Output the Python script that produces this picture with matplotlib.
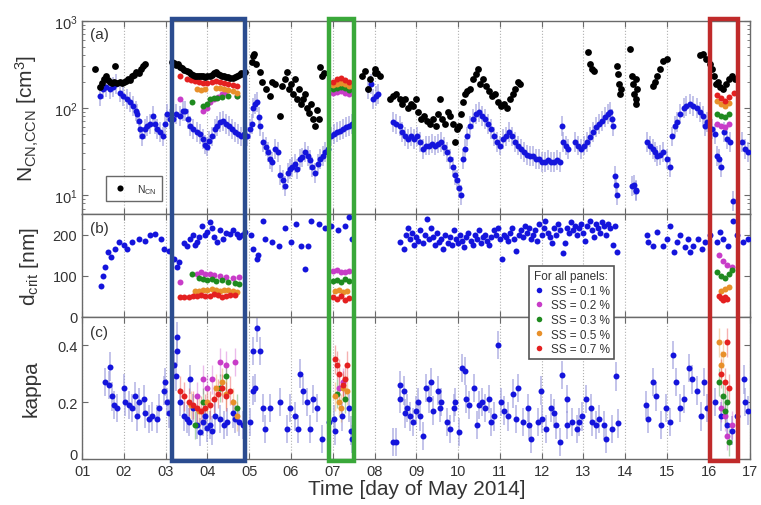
import numpy as np
import matplotlib
matplotlib.use("Agg")
import matplotlib.pyplot as plt
from matplotlib.patches import Rectangle
from matplotlib.transforms import blended_transform_factory, ScaledTranslation
from matplotlib.ticker import LogLocator, NullFormatter, FixedLocator

plt.rcParams['font.family'] = ['Liberation Sans', 'DejaVu Sans']
plt.rcParams['mathtext.default'] = 'regular'

# ---------------- data (day of May 2014, value) ----------------
day_ticks = list(range(1, 18))
day_labels = [f"{d:02d}" for d in day_ticks]

# Panel (a): total CN number concentration
ncn = [(1.31, 280), (1.43, 175), (1.47, 195), (1.52, 215), (1.57, 230), (1.62, 210), (1.67, 200),
       (1.72, 195), (1.77, 200), (1.79, 300), (1.84, 195), (1.90, 200), (1.95, 195), (2.00, 200),
       (2.05, 205), (2.10, 215), (2.15, 210), (2.20, 230), (2.25, 240), (2.30, 260), (2.35, 250),
       (2.40, 280), (2.45, 300), (2.50, 320),
       (3.15, 340), (3.20, 330), (3.25, 310), (3.30, 320), (3.35, 295), (3.40, 290), (3.45, 275),
       (3.50, 265), (3.55, 255), (3.60, 245), (3.65, 240), (3.70, 235), (3.75, 232), (3.80, 230),
       (3.85, 232), (3.90, 235), (3.95, 228), (4.00, 230), (4.05, 235), (4.10, 240), (4.15, 250),
       (4.20, 255), (4.25, 245), (4.30, 240), (4.35, 235), (4.40, 232), (4.45, 228), (4.50, 225),
       (4.55, 222), (4.60, 220), (4.65, 225), (4.70, 232), (4.75, 240), (4.80, 250), (4.85, 245),
       (4.90, 255),
       (5.07, 340), (5.10, 390), (5.12, 410), (5.17, 320), (5.26, 260), (5.31, 200), (5.41, 165),
       (5.50, 137), (5.55, 200), (5.62, 190), (5.74, 81), (5.79, 180), (5.86, 215), (5.91, 260),
       (5.96, 165), (6.00, 190), (6.05, 145), (6.10, 215), (6.15, 127), (6.20, 165), (6.25, 110),
       (6.29, 127), (6.34, 145), (6.39, 100), (6.44, 88), (6.48, 110), (6.53, 75), (6.58, 62),
       (6.63, 95), (6.68, 75), (6.70, 296), (6.75, 232), (6.80, 250),
       (7.71, 230), (7.78, 265), (7.85, 165), (7.90, 215), (8.00, 280), (8.02, 250), (8.07, 250),
       (8.14, 235),
       (8.38, 127), (8.45, 137), (8.52, 145), (8.60, 127), (8.67, 110), (8.74, 127), (8.81, 100),
       (8.88, 110), (8.93, 105), (9.00, 127), (9.05, 90), (9.12, 75), (9.19, 80), (9.26, 71),
       (9.34, 65), (9.41, 75), (9.48, 62), (9.53, 85), (9.57, 125), (9.62, 75), (9.69, 65),
       (9.77, 90), (9.81, 80), (9.89, 65), (9.93, 41), (9.98, 57), (10.03, 62), (10.08, 85),
       (10.12, 117), (10.17, 145), (10.22, 155), (10.29, 165), (10.37, 215), (10.44, 245),
       (10.48, 280), (10.53, 190), (10.60, 215), (10.68, 180), (10.75, 155), (10.82, 137),
       (10.89, 145), (10.96, 117), (11.04, 105), (11.11, 110), (11.18, 100), (11.25, 127),
       (11.32, 145), (11.37, 165), (11.44, 200), (11.49, 190),
       (13.12, 440), (13.17, 320), (13.22, 280), (13.26, 265),
       (13.81, 300), (13.84, 245), (13.86, 190), (13.89, 145), (13.91, 165),
       (14.12, 477), (14.17, 232), (14.20, 190), (14.22, 145), (14.25, 110), (14.27, 127),
       (14.29, 165), (14.27, 215),
       (14.68, 180), (14.72, 200), (14.77, 232), (14.84, 280), (14.92, 346), (15.01, 365),
       (15.80, 400), (15.87, 420), (15.94, 365), (16.04, 320), (16.09, 280), (16.14, 232),
       (16.18, 190), (16.23, 200), (16.28, 175), (16.35, 165), (16.42, 190), (16.50, 215),
       (16.57, 232), (16.64, 215)]

# Panel (a): CCN at SS = 0.1 %
ccn01 = [(1.43, 137), (1.50, 165), (1.57, 175), (1.67, 165), (1.74, 175), (1.81, 190), (1.91, 150),
         (1.98, 137), (2.08, 127), (2.15, 117), (2.22, 105), (2.29, 92), (2.32, 85), (2.37, 71),
         (2.39, 57), (2.44, 47), (2.51, 57), (2.56, 62), (2.63, 65), (2.70, 80), (2.75, 65),
         (2.80, 57), (2.87, 53), (2.94, 47), (2.99, 65), (3.04, 85), (3.11, 75),
         (3.18, 75), (3.25, 85), (3.35, 80), (3.42, 92), (3.47, 92), (3.54, 75), (3.59, 62),
         (3.66, 57), (3.75, 53), (3.83, 50), (3.90, 44), (3.95, 38), (4.00, 36), (4.04, 42),
         (4.11, 47), (4.19, 57), (4.23, 62), (4.31, 69), (4.38, 71), (4.45, 65), (4.52, 62),
         (4.59, 57), (4.66, 53), (4.74, 50), (4.81, 47), (4.88, 50),
         (4.95, 47), (5.02, 57), (5.07, 65), (5.10, 100), (5.14, 110), (5.19, 117), (5.24, 78),
         (5.26, 62), (5.34, 41), (5.41, 36), (5.46, 31), (5.50, 26), (5.55, 24), (5.62, 34),
         (5.69, 31), (5.74, 17), (5.81, 15), (5.86, 12.6), (5.93, 18), (5.98, 20), (6.03, 21),
         (6.10, 23), (6.15, 20), (6.22, 26), (6.27, 27), (6.34, 31), (6.41, 28), (6.46, 25),
         (6.51, 21), (6.58, 18), (6.65, 23), (6.70, 26), (6.77, 28), (6.82, 31), (6.89, 34),
         (6.96, 47), (7.04, 50), (7.11, 53), (7.18, 55), (7.25, 57), (7.32, 60), (7.39, 62),
         (7.47, 65),
         (7.85, 165), (7.92, 190), (7.97, 127), (8.04, 137), (8.09, 145),
         (8.45, 69), (8.52, 66), (8.60, 62), (8.67, 53), (8.74, 47), (8.81, 44), (8.88, 47),
         (8.95, 44), (9.02, 47), (9.10, 41), (9.17, 34), (9.24, 37), (9.31, 37), (9.38, 39),
         (9.46, 37), (9.53, 39), (9.60, 41), (9.67, 36), (9.74, 31), (9.81, 26), (9.89, 21),
         (9.93, 17), (9.98, 15), (10.03, 12), (10.08, 10), (10.12, 26), (10.17, 34), (10.22, 47),
         (10.29, 62), (10.36, 75), (10.44, 85), (10.51, 90), (10.58, 80), (10.65, 75), (10.72, 65),
         (10.80, 57), (10.87, 47), (10.94, 41), (11.01, 37), (11.08, 44), (11.16, 47), (11.23, 53),
         (11.30, 47), (11.37, 41), (11.44, 37), (11.51, 34), (11.59, 31), (11.66, 29), (11.73, 28),
         (11.80, 28), (11.87, 26), (11.95, 26), (12.02, 24), (12.09, 24), (12.16, 25), (12.23, 24),
         (12.30, 24), (12.38, 25), (12.45, 24),
         (12.50, 62), (12.52, 41), (12.59, 37), (12.64, 34),
         (12.81, 41), (12.88, 37), (12.95, 34), (13.02, 37), (13.10, 41), (13.17, 46), (13.24, 53),
         (13.31, 60), (13.38, 65), (13.45, 71), (13.53, 78), (13.60, 85), (13.65, 90), (13.69, 75),
         (13.72, 62), (13.77, 16.5), (13.79, 13), (13.81, 10),
         (14.17, 12.6), (14.22, 13), (14.25, 11), (14.27, 11.5),
         (14.53, 41), (14.60, 37), (14.68, 34), (14.72, 31), (14.77, 28), (14.84, 29), (14.92, 31),
         (15.01, 26), (15.08, 21), (15.13, 47), (15.20, 62), (15.25, 69), (15.32, 85), (15.40, 100),
         (15.47, 105), (15.56, 110), (15.63, 105), (15.73, 100), (15.80, 90), (15.87, 80),
         (15.92, 62), (15.97, 69),
         (16.09, 57), (16.16, 50), (16.21, 28), (16.26, 26), (16.30, 21), (16.38, 53), (16.45, 44),
         (16.52, 41), (16.59, 8.6), (16.81, 41), (16.88, 34), (16.95, 31)]

ccn07 = [(3.35, 230), (3.50, 215), (3.60, 210), (3.70, 205), (3.80, 200), (3.90, 195), (4.00, 195),
         (4.10, 200), (4.20, 205), (4.30, 200), (4.40, 195), (4.50, 190), (4.60, 185), (4.70, 180),
         (7.00, 200), (7.10, 215), (7.20, 220), (7.30, 210), (7.40, 200),
         (16.20, 140), (16.30, 130), (16.40, 120), (16.50, 135), (16.60, 150)]
ccn05 = [(3.75, 165), (3.85, 162), (3.95, 165), (4.20, 170), (4.30, 168), (4.40, 165), (4.50, 160),
         (4.60, 155), (4.70, 150),
         (7.00, 185), (7.10, 190), (7.20, 195), (7.30, 188), (7.40, 180),
         (16.20, 120), (16.30, 112), (16.40, 105), (16.50, 115)]
ccn03 = [(3.63, 117), (3.90, 105), (4.00, 110), (4.07, 125), (4.15, 130), (4.23, 130), (4.35, 135),
         (4.50, 137), (4.71, 137),
         (7.00, 165), (7.10, 170), (7.20, 175), (7.30, 168), (7.40, 160),
         (16.20, 85), (16.30, 80), (16.40, 78), (16.50, 85)]
ccn02 = [(3.35, 127), (3.90, 93), (4.00, 100), (4.07, 117), (4.15, 125), (4.25, 135), (4.35, 145),
         (4.43, 150), (4.71, 137),
         (7.00, 150), (7.10, 152), (7.20, 155), (7.30, 150), (7.40, 145),
         (16.20, 65), (16.30, 62), (16.40, 60), (16.50, 65)]

# Panel (b): critical diameter [nm]
dcrit01 = [(1.45, 76), (1.50, 100), (1.55, 122), (1.62, 158), (1.70, 146), (1.78, 166), (1.88, 183),
           (2.00, 175), (2.08, 165), (2.20, 183), (2.35, 190), (2.50, 185), (2.62, 198), (2.75, 202),
           (2.88, 190), (2.97, 166), (3.08, 160), (3.20, 141), (3.26, 122), (3.33, 134), (3.45, 180),
           (3.52, 173), (3.59, 190), (3.65, 200), (3.70, 175), (3.75, 183), (3.80, 195), (3.87, 222),
           (3.95, 200), (3.99, 207), (4.05, 230), (4.11, 215), (4.15, 195), (4.23, 183), (4.30, 210),
           (4.38, 190), (4.45, 205), (4.54, 202), (4.60, 210), (4.71, 202), (4.75, 195), (4.83, 198),
           (4.90, 207), (5.05, 200), (5.10, 166), (5.19, 141), (5.22, 150), (5.33, 234), (5.38, 190),
           (5.55, 183), (5.71, 173), (5.86, 215), (6.00, 183), (6.13, 227), (6.25, 173), (6.34, 117),
           (6.41, 173), (6.49, 234), (6.66, 227), (6.82, 215), (6.97, 222), (7.13, 210), (7.30, 220),
           (7.38, 244), (7.45, 190),
           (8.62, 183), (8.70, 166), (8.75, 200), (8.80, 215), (8.85, 190), (8.90, 205), (8.95, 175),
           (9.00, 195), (9.05, 185), (9.10, 210), (9.15, 180), (9.20, 200), (9.26, 239), (9.30, 190),
           (9.35, 215), (9.40, 195), (9.45, 175), (9.50, 205), (9.55, 183), (9.60, 190), (9.65, 165),
           (9.70, 200), (9.75, 180), (9.80, 195), (9.85, 175), (9.90, 210), (9.95, 190), (10.00, 180),
           (10.05, 200), (10.10, 185), (10.15, 170), (10.20, 195), (10.25, 205), (10.30, 185),
           (10.35, 175), (10.40, 200), (10.45, 190), (10.50, 210), (10.55, 180), (10.60, 195),
           (10.65, 200), (10.70, 185), (10.75, 175), (10.80, 195), (10.85, 210), (10.90, 200),
           (10.95, 215), (11.00, 190), (11.06, 141), (11.10, 200), (11.15, 195), (11.20, 185),
           (11.25, 205), (11.30, 215), (11.35, 190), (11.40, 160), (11.45, 200), (11.50, 210),
           (11.55, 195), (11.60, 220), (11.65, 205), (11.70, 215), (11.75, 190), (11.80, 200),
           (11.85, 210), (11.90, 185), (11.95, 225), (12.00, 200), (12.05, 215), (12.09, 232),
           (12.15, 205), (12.20, 195), (12.25, 180), (12.30, 215), (12.35, 200), (12.40, 225),
           (12.45, 210), (12.52, 154), (12.55, 180), (12.60, 215), (12.65, 205), (12.70, 230),
           (12.75, 210), (12.80, 220), (12.85, 200), (12.90, 215), (12.95, 225), (13.00, 205),
           (13.05, 185), (13.10, 220), (13.17, 232), (13.20, 210), (13.25, 195), (13.30, 225),
           (13.35, 215), (13.40, 205), (13.45, 230), (13.50, 220), (13.55, 200), (13.60, 225),
           (13.65, 215), (13.70, 175), (13.75, 220), (13.81, 158),
           (14.53, 198), (14.56, 183), (14.68, 173), (14.77, 207), (14.92, 173), (15.01, 190),
           (15.08, 222), (15.16, 158), (15.25, 183), (15.32, 198), (15.44, 171), (15.50, 190),
           (15.56, 158), (15.63, 173), (15.75, 190), (15.85, 166), (15.92, 183), (16.04, 198),
           (16.21, 183), (16.28, 207), (16.35, 190), (16.47, 173), (16.59, 232), (16.69, 198),
           (16.83, 183), (16.95, 190)]
dcrit02 = [(3.35, 85), (3.75, 105), (3.85, 108), (3.95, 103), (4.05, 105), (4.15, 102), (4.30, 100),
           (4.45, 98), (4.60, 95), (4.75, 97),
           (7.00, 112), (7.10, 115), (7.20, 110), (7.30, 108), (7.40, 112),
           (16.25, 150), (16.35, 135), (16.45, 125), (16.55, 120)]
dcrit03 = [(3.63, 105), (3.80, 95), (3.90, 92), (4.00, 90), (4.10, 93), (4.20, 88), (4.35, 90),
           (4.50, 85), (4.65, 83), (4.75, 80),
           (7.00, 88), (7.10, 90), (7.20, 85), (7.30, 92), (7.40, 87),
           (16.20, 110), (16.30, 100), (16.40, 95), (16.50, 105), (16.55, 115)]
dcrit05 = [(3.70, 62), (3.80, 63), (3.90, 65), (4.00, 64), (4.10, 68), (4.20, 66), (4.30, 62),
           (4.40, 65), (4.50, 64), (4.60, 62), (4.70, 60),
           (7.05, 63), (7.15, 65), (7.25, 60), (7.35, 62),
           (16.30, 62), (16.40, 68), (16.50, 72)]
dcrit07 = [(3.35, 49), (3.45, 48), (3.55, 49), (3.65, 50), (3.75, 51), (3.85, 52), (3.95, 50),
           (4.05, 51), (4.15, 55), (4.25, 52), (4.35, 48), (4.45, 50), (4.55, 52), (4.65, 54),
           (7.00, 48), (7.10, 44), (7.20, 50), (7.30, 42), (7.40, 46),
           (16.25, 50), (16.30, 45), (16.35, 42), (16.40, 48), (16.45, 44)]

# Panel (c): hygroscopicity parameter kappa
kappa01 = [(1.55, 0.27), (1.64, 0.26), (1.67, 0.325), (1.72, 0.22), (1.77, 0.19), (1.84, 0.18),
           (2.00, 0.25), (2.03, 0.20), (2.12, 0.19), (2.20, 0.18), (2.27, 0.22), (2.32, 0.15),
           (2.36, 0.20), (2.48, 0.21), (2.51, 0.16), (2.60, 0.14), (2.68, 0.15), (2.80, 0.14),
           (2.84, 0.18), (2.96, 0.24), (2.99, 0.27), (3.04, 0.20), (3.08, 0.16),
           (3.21, 0.33), (3.25, 0.29), (3.28, 0.38), (3.28, 0.43), (3.35, 0.20), (3.45, 0.15),
           (3.50, 0.14), (3.55, 0.13), (3.59, 0.28), (3.66, 0.18), (3.75, 0.12), (3.83, 0.095),
           (3.90, 0.13), (3.95, 0.15), (4.00, 0.11), (4.07, 0.12), (4.10, 0.10), (4.19, 0.15),
           (4.31, 0.14), (4.40, 0.12), (4.47, 0.13), (4.61, 0.16), (4.66, 0.14), (4.76, 0.13),
           (4.85, 0.12),
           (5.02, 0.13), (5.10, 0.24), (5.10, 0.38), (5.14, 0.25), (5.19, 0.46), (5.26, 0.38),
           (5.34, 0.18), (5.38, 0.105), (5.50, 0.18), (5.74, 0.20), (5.90, 0.105), (5.98, 0.18),
           (6.10, 0.15), (6.17, 0.105), (6.22, 0.30), (6.29, 0.24), (6.39, 0.20), (6.46, 0.105),
           (6.53, 0.21), (6.63, 0.18), (6.75, 0.07), (6.91, 0.13), (7.03, 0.14), (7.06, 0.10),
           (7.23, 0.15), (7.39, 0.18), (7.44, 0.10), (7.47, 0.07),
           (8.45, 0.06), (8.52, 0.06), (8.60, 0.21), (8.62, 0.26), (8.70, 0.24), (8.74, 0.16),
           (8.79, 0.18), (8.86, 0.15), (8.91, 0.13), (9.00, 0.17), (9.03, 0.20), (9.08, 0.15),
           (9.17, 0.08), (9.24, 0.25), (9.30, 0.21), (9.36, 0.27), (9.41, 0.17), (9.53, 0.24),
           (9.57, 0.18), (9.60, 0.20), (9.74, 0.13), (9.81, 0.105), (9.90, 0.18), (9.93, 0.20),
           (10.03, 0.095), (10.10, 0.32), (10.17, 0.31), (10.20, 0.21), (10.26, 0.19), (10.38, 0.25),
           (10.45, 0.12), (10.50, 0.19), (10.57, 0.20), (10.65, 0.18), (10.74, 0.21), (10.80, 0.13),
           (10.86, 0.15), (10.96, 0.40), (11.04, 0.20), (11.10, 0.17), (11.20, 0.15), (11.32, 0.23),
           (11.40, 0.14), (11.44, 0.25), (11.56, 0.13), (11.68, 0.18), (11.70, 0.12), (11.75, 0.07),
           (11.92, 0.13), (11.99, 0.24), (12.00, 0.14), (12.11, 0.105), (12.23, 0.18), (12.30, 0.16),
           (12.35, 0.12), (12.45, 0.06), (12.50, 0.295), (12.60, 0.12), (12.62, 0.21), (12.74, 0.13),
           (12.86, 0.105), (12.90, 0.13), (12.97, 0.15), (13.07, 0.21), (13.19, 0.18), (13.20, 0.13),
           (13.31, 0.12), (13.38, 0.14), (13.50, 0.12), (13.55, 0.07), (13.69, 0.105), (13.79, 0.29),
           (13.82, 0.125),
           (14.51, 0.19), (14.56, 0.14), (14.68, 0.27), (14.75, 0.22), (14.87, 0.12), (14.99, 0.18),
           (15.08, 0.13), (15.15, 0.365), (15.23, 0.27), (15.32, 0.18), (15.40, 0.21), (15.53, 0.32),
           (15.60, 0.28), (15.73, 0.24), (15.83, 0.15), (15.90, 0.27), (15.97, 0.18), (16.15, 0.20),
           (16.30, 0.15), (16.45, 0.12), (16.55, 0.10), (16.69, 0.15), (16.86, 0.28), (16.88, 0.20),
           (16.95, 0.17)]
kappa02 = [(3.75, 0.22), (3.90, 0.28), (4.00, 0.25), (4.10, 0.28), (4.30, 0.34), (4.45, 0.33),
           (4.65, 0.34), (7.15, 0.25), (7.25, 0.27),
           (16.30, 0.18), (16.40, 0.15), (16.45, 0.08), (16.55, 0.12)]
kappa03 = [(3.70, 0.12), (3.90, 0.20), (4.30, 0.25), (4.45, 0.29), (4.70, 0.18),
           (7.10, 0.23), (7.30, 0.21),
           (16.25, 0.27), (16.35, 0.22), (16.40, 0.17), (16.45, 0.20), (16.50, 0.06)]
kappa05 = [(3.60, 0.19), (3.80, 0.17), (4.00, 0.20), (4.20, 0.25), (4.35, 0.27), (4.45, 0.23),
           (4.60, 0.20), (4.70, 0.15),
           (7.05, 0.22), (7.15, 0.20), (7.20, 0.18), (7.25, 0.25), (7.35, 0.24),
           (16.25, 0.41), (16.30, 0.33), (16.35, 0.37)]
kappa07 = [(3.35, 0.24), (3.45, 0.22), (3.55, 0.20), (3.65, 0.19), (3.75, 0.18), (3.85, 0.17),
           (3.95, 0.18), (4.05, 0.19), (4.15, 0.21), (4.25, 0.23), (4.35, 0.25), (4.45, 0.22),
           (4.55, 0.24),
           (7.05, 0.35), (7.10, 0.33), (7.15, 0.30), (7.25, 0.26), (7.30, 0.28), (7.35, 0.33),
           (16.30, 0.30), (16.40, 0.27), (16.45, 0.41), (16.50, 0.25)]

ss_labels = ['SS = 0.1 %', 'SS = 0.2 %', 'SS = 0.3 %', 'SS = 0.5 %', 'SS = 0.7 %']
REL_ERR_N = 0.3      # relative uncertainty drawn on CCN(0.1%) in panel (a)
ERR_KAPPA = 0.05     # uncertainty drawn on kappa in panel (c)
highlight_boxes = [(3.16, 4.90, '#2b4c8f'), (6.90, 7.51, '#3aa83a'), (16.04, 16.71, '#c02a2a')]

# ---------------- style ----------------
c_ss = ['#1414dc', '#c83cc8', '#1f8a1f', '#e8902a', '#e42020']
c_err = '#9c9cdc'
txt = '#333333'
spine_c = '#6a6a6a'

fig = plt.figure(figsize=(7.61, 5.06), dpi=100)
L, W = 0.108, 0.878
axa = fig.add_axes([L, 0.575, W, 0.382])
axb = fig.add_axes([L, 0.372, W, 0.203], sharex=axa)
axc = fig.add_axes([L, 0.091, W, 0.281], sharex=axa)

def arr(d):
    a = np.array(d, dtype=float)
    return a[:, 0], a[:, 1]

# Panel (a)
t, v = arr(ccn01)
axa.vlines(t, v / (1 + REL_ERR_N), v * (1 + REL_ERR_N), color=c_err, lw=1.2, alpha=0.7, zorder=2)
axa.plot(t, v, 'o', color=c_ss[0], ms=4.3, mec='none', zorder=3)
for series, col in zip([ccn02, ccn03, ccn05, ccn07], c_ss[1:]):
    t, v = arr(series)
    axa.plot(t, v, 'o', color=col, ms=4.3, mec='none', zorder=3)
t, v = arr(ncn)
hcn, = axa.plot(t, v, 'o', color='black', ms=4.9, mec='none', zorder=4, label='N$_{CN}$')
axa.set_yscale('log')
axa.set_ylim(6.05, 1000)
axa.yaxis.set_major_locator(LogLocator(base=10, numticks=5))
axa.yaxis.set_minor_locator(LogLocator(base=10, subs=np.arange(2, 10), numticks=20))
axa.yaxis.set_minor_formatter(NullFormatter())
leg_a = axa.legend(handles=[hcn], loc='lower left', bbox_to_anchor=(0.036, 0.065),
                   fontsize=7.5, frameon=True, fancybox=False, edgecolor='#444444',
                   handlelength=1.6, handletextpad=0.8, borderpad=0.55, borderaxespad=0.0,
                   markerscale=0.9)
leg_a.get_frame().set_linewidth(1.0)
for tx in leg_a.get_texts():
    tx.set_color(txt)

# Panel (b)
t, v = arr(dcrit01)
axb.plot(t, v, 'o', color=c_ss[0], ms=4.3, mec='none', zorder=3)
for series, col in zip([dcrit02, dcrit03, dcrit05, dcrit07], c_ss[1:]):
    t, v = arr(series)
    axb.plot(t, v, 'o', color=col, ms=4.3, mec='none', zorder=3)
axb.set_ylim(0, 250)
axb.set_yticks([0, 100, 200])

# Panel (c)
t, v = arr(kappa01)
axc.vlines(t, v - ERR_KAPPA, v + ERR_KAPPA, color=c_err, lw=1.2, alpha=0.7, zorder=2)
axc.plot(t, v, 'o', color=c_ss[0], ms=4.3, mec='none', zorder=3)
for series, col in zip([kappa02, kappa03, kappa05, kappa07], c_ss[1:]):
    t, v = arr(series)
    axc.vlines(t, v - ERR_KAPPA, v + ERR_KAPPA, color=col, lw=1.0, alpha=0.35, zorder=2)
    axc.plot(t, v, 'o', color=col, ms=4.3, mec='none', zorder=3)
axc.set_ylim(0, 0.5)
axc.set_yticks([0, 0.2, 0.4])
axc.set_yticklabels(['0', '0.2', '0.4'])

for ax in (axa, axb, axc):
    ax.set_xlim(1, 17)
    ax.xaxis.set_major_locator(FixedLocator(day_ticks))
    ax.grid(axis='x', color='#b0b0b0', ls=':', lw=0.8)
    ax.tick_params(direction='in', top=True, right=True, labelsize=10.5, colors=spine_c,
                   labelcolor=txt, length=4)
    ax.tick_params(which='minor', direction='in', right=True, left=True, length=2, colors=spine_c)
    for s in ax.spines.values():
        s.set_color(spine_c)
        s.set_linewidth(1.0)
axa.tick_params(labelbottom=False)
axb.tick_params(labelbottom=False)
axc.set_xticklabels(day_labels)

# nudge the lowest kappa tick label up a little so it clears the "01" day label
zero_lbl = axc.get_yticklabels()[0]
zero_lbl.set_transform(zero_lbl.get_transform() + ScaledTranslation(0, 4 / 72, fig.dpi_scale_trans))

axa.set_ylabel('N$_{CN{,}CCN}$ [cm$^{3}$]', fontsize=15, color=txt)
axb.set_ylabel('d$_{crit}$ [nm]', fontsize=15, color=txt)
axc.set_ylabel('kappa', fontsize=15, color=txt)
for ax in (axa, axb, axc):
    ax.yaxis.set_label_coords(-0.062, 0.5)
axc.set_xlabel('Time [day of May 2014]', fontsize=15, color=txt, labelpad=1)

axa.text(0.012, 0.93, '(a)', transform=axa.transAxes, fontsize=11, color=txt, va='center')
axb.text(0.012, 0.86, '(b)', transform=axb.transAxes, fontsize=11, color=txt, va='center')
axc.text(0.012, 0.89, '(c)', transform=axc.transAxes, fontsize=11, color=txt, va='center')

# Figure legend spanning panels (b)/(c)
handles = [plt.Line2D([], [], ls='none', marker='o', color=c, ms=4, mec='none') for c in c_ss]
leg = fig.legend(handles, ss_labels, title='For all panels:', loc='upper left',
                 bbox_to_anchor=(0.687, 0.484), fontsize=8.5, title_fontsize=8.5,
                 frameon=True, fancybox=False, edgecolor='#555555', framealpha=1,
                 handlelength=1.0, handletextpad=0.5, borderpad=0.35, labelspacing=0.22)
leg.get_frame().set_linewidth(1.2)
for tx in leg.get_texts():
    tx.set_color(txt)
leg.get_title().set_color(txt)

# Highlight boxes spanning all panels
trans = blended_transform_factory(axc.transData, fig.transFigure)
for x0, x1, col in highlight_boxes:
    r = Rectangle((x0, 0.086), x1 - x0, 0.875, transform=trans, fill=False,
                  ec=col, lw=3.2, zorder=20)
    fig.add_artist(r)

fig.savefig('out.png', dpi=100)
